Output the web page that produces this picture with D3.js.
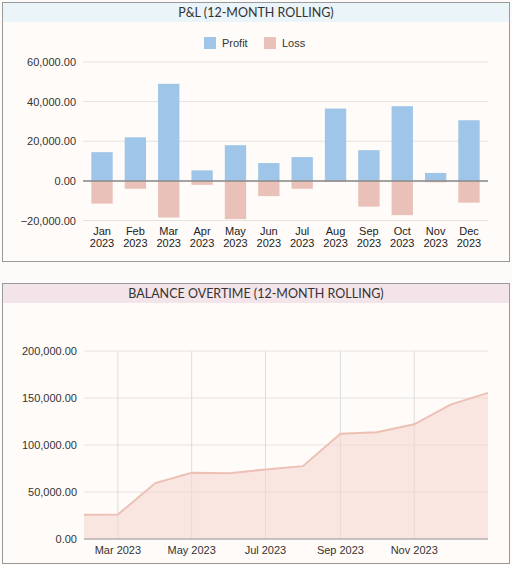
<!DOCTYPE html>
<html><head><meta charset="utf-8">
<script src="https://cdn.jsdelivr.net/npm/d3@7"></script>
<style>
body{margin:0;background:#fdfbfa;}
svg{display:block;font-family:"Liberation Sans",Arial,sans-serif;}
</style></head><body>
<svg id="c" width="512" height="565"></svg>
<script>
// data
const months = ["Jan 2023","Feb 2023","Mar 2023","Apr 2023","May 2023","Jun 2023","Jul 2023","Aug 2023","Sep 2023","Oct 2023","Nov 2023","Dec 2023"];
const profit = [14500,22000,49000,5300,18000,9000,12000,36500,15500,37700,4000,30600];
const loss = [-11500,-4000,-18500,-2000,-19300,-7700,-4000,-500,-13000,-17300,-700,-11000];
const balanceDates = ["2023-02-01","2023-03-01","2023-04-01","2023-05-01","2023-06-01","2023-07-01","2023-08-01","2023-09-01","2023-10-01","2023-11-01","2023-12-01","2024-01-01"];
const balance = [25900,26000,59500,70500,70000,74000,77500,112000,113500,122000,143000,155500];
const plTicks = [-20000,0,20000,40000,60000];
const balTicks = [0,50000,100000,150000,200000];

const svg = d3.select("#c");
const fmt = d3.format(",.2f");

function panel(y0, h, title, band) {
  svg.append("rect").attr("x",2.5).attr("y",y0+0.5).attr("width",507).attr("height",h)
    .attr("fill","#fffbf8").attr("stroke","#9a9a9a");
  svg.append("rect").attr("x",3).attr("y",y0+1).attr("width",506).attr("height",19).attr("fill",band);
  svg.append("text").attr("x",256).attr("y",y0+15).attr("text-anchor","middle")
    .attr("font-family","Lato,'Open Sans',sans-serif").attr("font-size",12.5).attr("fill","#333")
    .text(title);
}

// P&L panel
panel(2, 259, "P&L (12-MONTH ROLLING)", "#eaf4f9");
const x = d3.scaleBand().domain(months).range([83,488]).paddingInner(0.36).paddingOuter(0.25);
const y = d3.scaleLinear().domain([-20000,60000]).range([220.5,62]);
const g1 = svg.append("g");
g1.selectAll(".gl").data(plTicks).join("line")
  .attr("x1",83).attr("x2",488).attr("y1",d=>y(d)).attr("y2",d=>y(d))
  .attr("stroke","#e4e2e0");
g1.selectAll(".yl").data(plTicks).join("text")
  .attr("x",76).attr("y",d=>y(d)+4).attr("text-anchor","end").attr("font-size",11).attr("fill","#333")
  .text(d=>fmt(d));
g1.selectAll(".p").data(profit).join("rect")
  .attr("x",(d,i)=>x(months[i])).attr("width",x.bandwidth())
  .attr("y",d=>y(d)).attr("height",d=>y(0)-y(d)).attr("fill","#9fc5e8");
g1.selectAll(".l").data(loss).join("rect")
  .attr("x",(d,i)=>x(months[i])).attr("width",x.bandwidth())
  .attr("y",y(0)).attr("height",d=>y(d)-y(0)).attr("fill","#eac1b8");
g1.append("line").attr("x1",83).attr("x2",488).attr("y1",y(0)).attr("y2",y(0)).attr("stroke","#888").attr("stroke-width",1.5);
const xl = g1.selectAll(".xl").data(months).join("text")
  .attr("text-anchor","middle").attr("font-size",11).attr("fill","#222");
xl.append("tspan").attr("x",d=>x(d)+x.bandwidth()/2).attr("y",235).text(d=>d.split(" ")[0]);
xl.append("tspan").attr("x",d=>x(d)+x.bandwidth()/2).attr("y",247).text(d=>d.split(" ")[1]);
// legend
const leg = [["Profit","#9fc5e8",204],["Loss","#eac1b8",264]];
leg.forEach(([t,c,lx])=>{
  svg.append("rect").attr("x",lx).attr("y",37).attr("width",12).attr("height",12).attr("fill",c);
  svg.append("text").attr("x",lx+18).attr("y",47).attr("font-size",11).attr("fill","#333").text(t);
});

// Balance panel
panel(283, 280, "BALANCE OVERTIME (12-MONTH ROLLING)", "#f3e4ea");
const parse = d3.timeParse("%Y-%m-%d");
const dates = balanceDates.map(parse);
const bx = d3.scaleTime().domain([dates[0], dates[dates.length-1]]).range([84,488]);
const by = d3.scaleLinear().domain([0,200000]).range([539,351]);
const g2 = svg.append("g");
g2.selectAll(".gl").data(balTicks).join("line")
  .attr("x1",84).attr("x2",488).attr("y1",d=>by(d)).attr("y2",d=>by(d)).attr("stroke","#e4e2e0");
const xt = [2,4,6,8,10].map(i=>dates[i-1]);
g2.selectAll(".vl").data(xt).join("line")
  .attr("x1",d=>bx(d)).attr("x2",d=>bx(d)).attr("y1",by(200000)).attr("y2",by(0)).attr("stroke","#dcdcdc");
g2.selectAll(".yl").data(balTicks).join("text")
  .attr("x",77).attr("y",d=>by(d)+4).attr("text-anchor","end").attr("font-size",11).attr("fill","#333")
  .text(d=>fmt(d));
g2.selectAll(".xl").data(xt).join("text")
  .attr("x",d=>bx(d)).attr("y",554).attr("text-anchor","middle").attr("font-size",11).attr("fill","#333")
  .text(d3.timeFormat("%b %Y"));
const pts = dates.map((d,i)=>[d,balance[i]]);
g2.append("path").datum(pts)
  .attr("d",d3.area().x(d=>bx(d[0])).y0(by(0)).y1(d=>by(d[1])))
  .attr("fill","#f4d6ce").attr("fill-opacity",0.55);
g2.append("path").datum(pts)
  .attr("d",d3.line().x(d=>bx(d[0])).y(d=>by(d[1])))
  .attr("fill","none").attr("stroke","#ecc0b4").attr("stroke-width",2);
g2.append("line").attr("x1",84).attr("x2",488).attr("y1",by(0)).attr("y2",by(0)).attr("stroke","#999").attr("stroke-width",1.2);
</script></body></html>
